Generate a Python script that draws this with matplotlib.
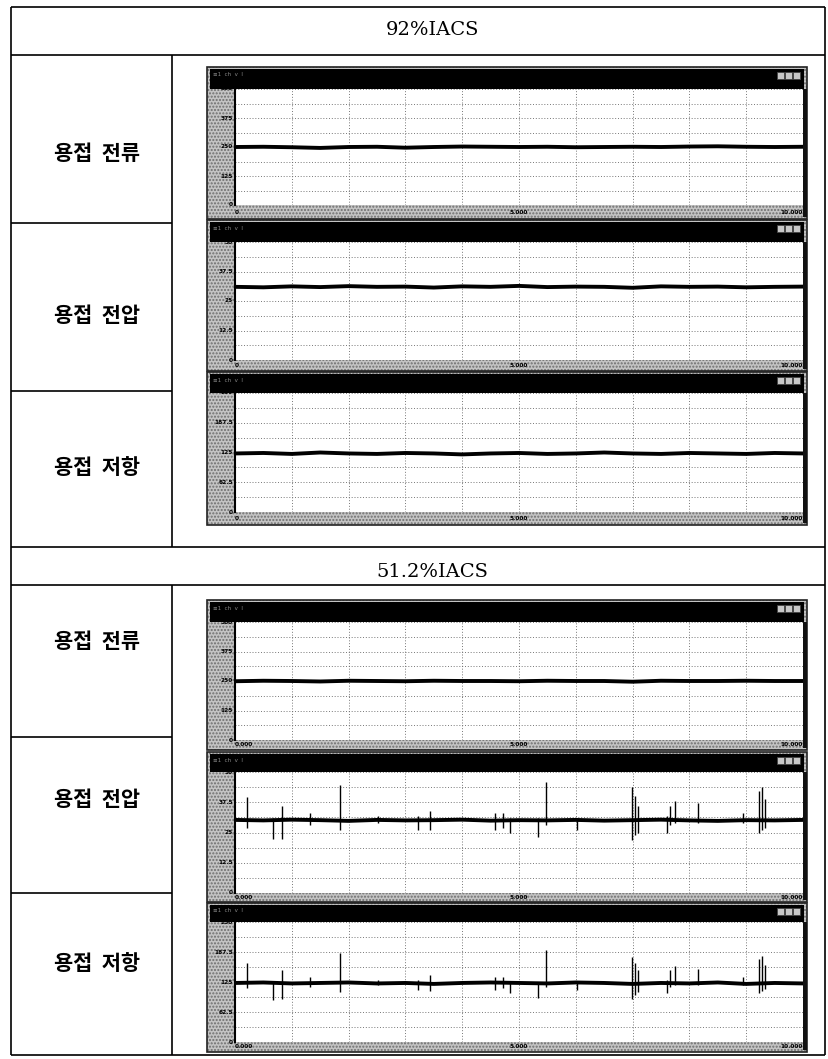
import numpy as np
import matplotlib.pyplot as plt
from matplotlib.patches import Rectangle

W, H = 829, 1059

# ---- data ----
headers = ['92%IACS', '51.2%IACS']
row_labels = ['용접  전류', '용접  전압', '용접  저항']

t = [0, 0.5, 1, 1.5, 2, 2.5, 3, 3.5, 4, 4.5, 5, 5.5, 6, 6.5, 7, 7.5, 8, 8.5, 9, 9.5, 10]

cur_92 = [250, 251, 249, 246, 250, 251, 247, 250, 252, 251, 250, 251, 249, 250, 251, 250, 252, 253, 251, 250, 251]
volt_92 = [31.0, 30.8, 31.2, 30.9, 31.3, 31.0, 31.1, 30.7, 31.2, 31.0, 31.4, 30.9, 31.1, 31.0, 30.6, 31.2, 31.0, 31.1, 30.8, 31.0, 31.1]
res_92 = [123, 124, 122, 125, 123, 122, 124, 123, 121, 123, 124, 122, 123, 125, 123, 122, 124, 123, 122, 124, 123]

cur_51 = [249, 251, 250, 248, 251, 250, 249, 251, 250, 250, 249, 251, 250, 250, 247, 251, 250, 250, 251, 250, 250]
volt_51 = [30.2, 30.0, 30.3, 30.1, 29.8, 30.2, 30.0, 30.1, 30.3, 29.9, 30.1, 30.0, 30.2, 29.9, 30.1, 30.3, 30.0, 29.8, 30.1, 30.0, 30.2]
res_51 = [123, 124, 122, 123, 124, 122, 123, 121, 123, 124, 123, 122, 124, 123, 121, 123, 122, 124, 121, 123, 122]

# spikes in the 51.2%IACS traces (time, top, bottom)
spike_t = [0.21, 0.67, 0.83, 1.32, 1.85, 2.52, 3.22, 3.43, 4.58, 4.72, 4.84, 5.33, 5.48,
           6.02, 6.99, 7.05, 7.10, 7.61, 7.66, 7.75, 8.15, 8.94, 9.22, 9.28, 9.33]
volt_hi = [39.5, 31, 36, 33, 44.5, 32, 32, 34, 33, 33, 31, 31, 46,
           31, 44, 40, 36, 32, 36, 38, 37, 33, 42, 44, 39]
volt_lo = [27, 22.5, 22.5, 28, 26, 29, 26, 26, 26, 27, 25, 23, 28,
           26, 22, 24, 25, 25, 28, 29, 29, 29, 25, 26, 27]
res_hi = [164, 126, 150, 135, 185, 130, 130, 140, 135, 135, 127, 126, 192,
          127, 178, 165, 150, 130, 150, 158, 152, 135, 172, 180, 160]
res_lo = [112, 88, 90, 115, 105, 118, 108, 106, 108, 112, 102, 92, 114,
          108, 90, 98, 104, 102, 114, 118, 118, 118, 102, 106, 110]

cur_ticks = ['500', '375', '250', '125', '0']
volt_ticks = ['50', '37.5', '25', '12.5', '0']
res_ticks = ['250', '187.5', '125', '62.5', '0']
x_ticks_92 = ['0', '5.000', '10.000']
x_ticks_51 = ['0.000', '5.000', '10.000']

fig = plt.figure(figsize=(W / 100, H / 100), dpi=100)
base = fig.add_axes([0, 0, 1, 1])
base.set_xlim(0, W)
base.set_ylim(H, 0)
base.axis('off')

kr = ['Noto Sans CJK KR', 'DejaVu Sans']

# ---- table ----
def hline(y, x0=11, x1=825, lw=1.2):
    base.plot([x0, x1], [y, y], color='black', lw=lw, solid_capstyle='butt')

def vline(x, y0, y1, lw=1.2):
    base.plot([x, x], [y0, y1], color='black', lw=lw, solid_capstyle='butt')

for y in [7, 55, 547, 585, 1055]:
    hline(y)
vline(11, 7, 1055)
vline(825, 7, 1055)
vline(172, 55, 547)
vline(172, 585, 1055)
for y in [223, 391, 737, 893]:
    hline(y, 11, 172)

base.text(432, 30, headers[0], ha='center', va='center', fontsize=14, family='DejaVu Serif')
base.text(432, 572, headers[1], ha='center', va='center', fontsize=14, family='DejaVu Serif')

label_y = [[153, 316, 468], [642, 800, 963]]
for block in range(2):
    for i, lab in enumerate(row_labels):
        base.text(97, label_y[block][i], lab, ha='center', va='center', fontsize=15,
                  family=kr, fontweight='bold')

# ---- screenshot windows ----
# (top, title bottom, plot bottom, window bottom)
panels = [(67, 89, 205, 219), (220, 242, 360, 371), (372, 393, 512, 525),
          (600, 622, 740, 750), (752, 772, 893, 902), (903, 922, 1042, 1052)]
wx0, wx1 = 207, 807
px0, px1 = 235, 803

def window(top, tb, pb, bot, yt, xt):
    # gray halftone frame
    base.add_patch(Rectangle((wx0, top), wx1 - wx0, bot - top, facecolor='#c4c4c4',
                             edgecolor='#6e6e6e', hatch='.....', lw=0, zorder=1))
    base.add_patch(Rectangle((wx0, top), wx1 - wx0, bot - top, facecolor='none',
                             edgecolor='#222222', lw=1.2, zorder=2))
    # title bar
    base.add_patch(Rectangle((wx0 + 3, top + 2), wx1 - wx0 - 6, tb - top - 2,
                             facecolor='black', lw=0, zorder=2))
    base.text(wx0 + 6, top + 8, '≡1  ch  v  I', color='#8a8a8a', fontsize=4, va='center', zorder=3)
    for k in range(3):
        bx = wx1 - 30 + k * 8
        base.add_patch(Rectangle((bx, top + 5), 7, 7, facecolor='#c8c8c8',
                                 edgecolor='#444444', lw=0.6, zorder=3))
    # right dark edge
    base.add_patch(Rectangle((px1, tb), 4, bot - tb - 2, facecolor='#111111', lw=0, zorder=2))
    # y tick labels in the gray strip
    for k, lab in enumerate(yt):
        yy = tb + (pb - tb) * k / 4
        base.text(px0 - 2, yy, lab, ha='right', va='center', fontsize=4.2,
                  fontweight='bold', color='black', zorder=3)
    for k, lab in enumerate(xt):
        xx = px0 + (px1 - px0) * k / 2
        ha = ['left', 'center', 'right'][k]
        base.text(xx, (pb + bot) / 2, lab, ha=ha, va='center', fontsize=4.2,
                  fontweight='bold', color='black', zorder=3)

def plot_area(top, tb, pb, ymax):
    ax = fig.add_axes([px0 / W, 1 - pb / H, (px1 - px0) / W, (pb - tb) / H])
    ax.set_xlim(0, 10)
    ax.set_ylim(0, ymax)
    ax.set_xticks(np.arange(0, 11, 1))
    ax.set_yticks(np.linspace(0, ymax, 9))
    ax.grid(True, color='#666666', ls=(0, (1.2, 2.2)), lw=0.6)
    ax.tick_params(left=False, bottom=False, labelleft=False, labelbottom=False)
    for s in ax.spines.values():
        s.set_visible(False)
    ax.spines['left'].set_visible(True)
    ax.spines['left'].set_linewidth(1.5)
    return ax

series = [(cur_92, 500, cur_ticks, x_ticks_92, None),
          (volt_92, 50, volt_ticks, x_ticks_92, None),
          (res_92, 250, res_ticks, x_ticks_92, None),
          (cur_51, 500, cur_ticks, x_ticks_51, None),
          (volt_51, 50, volt_ticks, x_ticks_51, (volt_hi, volt_lo)),
          (res_51, 250, res_ticks, x_ticks_51, (res_hi, res_lo))]

for (top, tb, pb, bot), (vals, ymax, yt, xt, spikes) in zip(panels, series):
    window(top, tb, pb, bot, yt, xt)
    ax = plot_area(top, tb, pb, ymax)
    ax.plot(t, vals, color='black', lw=2.8, solid_joinstyle='round')
    if spikes is not None:
        ax.vlines(spike_t, spikes[1], spikes[0], color='black', lw=1.0)

fig.savefig('out.png', dpi=100)
